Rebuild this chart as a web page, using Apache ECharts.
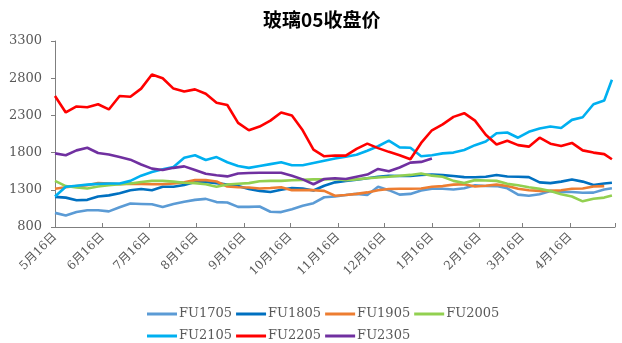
<!DOCTYPE html>
<html><head><meta charset="utf-8">
<script src="https://cdn.jsdelivr.net/npm/echarts@6/dist/echarts.min.js"></script>
<style>html,body{margin:0;padding:0;background:#fff}#c{width:622px;height:343px}</style>
</head><body><div id="c"></div>
<script>
// Title and legend
const titleText = '玻璃05收盘价';
const seriesNames = ['FU1705','FU1805','FU1905','FU2005','FU2105','FU2205','FU2305'];
const seriesColors = ['#5B9BD5','#0070C0','#ED7D31','#92D050','#00B0F0','#FF0000','#7030A0'];
// y axis
const yMin = 800, yMax = 3300, yStep = 500;

// categories: every calendar day 5月16日 .. 5月15日 (365 days)
const categories = [];
for (let i = 0; i < 365; i++) {
  const d = new Date(Date.UTC(2021, 4, 16 + i));
  categories.push((d.getUTCMonth() + 1) + '月' + d.getUTCDate() + '日');
}
// sample days (index into categories), weekly readings
const sampleDays = [];
for (let k = 0; k < 52; k++) sampleDays.push(k * 7);
sampleDays.push(362);

const FU1705 = [990,955,1002,1025,1025,1010,1065,1115,1110,1105,1070,1110,1140,1165,1178,1135,1130,1070,1070,1075,1005,1000,1040,1085,1120,1200,1210,1230,1245,1230,1340,1295,1235,1245,1290,1315,1315,1305,1320,1360,1352,1350,1320,1235,1220,1240,1285,1270,1270,1260,1262,1305,1320];
const FU1805 = [1205,1195,1160,1165,1210,1225,1255,1295,1310,1295,1340,1340,1365,1405,1405,1390,1372,1350,1310,1285,1270,1300,1325,1318,1290,1355,1400,1420,1435,1455,1475,1488,1485,1485,1498,1505,1497,1485,1470,1468,1475,1500,1478,1475,1470,1400,1390,1410,1438,1410,1365,1385,1395];
const FU1905 = [1315,1335,1350,1362,1390,1385,1375,1383,1380,1375,1375,1385,1400,1430,1430,1412,1345,1335,1330,1318,1325,1335,1295,1295,1295,1285,1220,1230,1245,1265,1295,1310,1315,1315,1318,1340,1350,1370,1375,1345,1355,1370,1350,1315,1293,1285,1285,1295,1315,1318,1345,1350,null];
const FU2005 = [1420,1350,1330,1318,1345,1362,1375,1385,1405,1420,1420,1410,1395,1390,1375,1340,1372,1382,1390,1415,1420,1420,1428,1433,1440,1440,1445,1430,1440,1455,1465,1475,1488,1500,1518,1490,1475,1420,1392,1430,1425,1420,1380,1360,1335,1315,1285,1240,1210,1145,1180,1195,1222];
const FU2105 = [1210,1340,1355,1370,1380,1385,1385,1420,1490,1540,1575,1605,1730,1765,1700,1740,1670,1620,1595,1620,1645,1670,1630,1630,1660,1690,1720,1745,1770,1825,1885,1960,1870,1865,1750,1765,1790,1800,1835,1900,1950,2060,2070,2000,2080,2125,2150,2130,2240,2275,2450,2500,2780];
const FU2205 = [2560,2340,2420,2410,2450,2380,2560,2550,2660,2850,2800,2660,2620,2650,2590,2470,2440,2200,2100,2150,2230,2340,2300,2100,1840,1750,1760,1760,1850,1920,1860,1810,1765,1710,1930,2100,2180,2280,2330,2230,2040,1910,1960,1900,1880,2000,1920,1890,1930,1830,1800,1780,1710];
const FU2305 = [1790,1765,1830,1865,1795,1775,1740,1705,1640,1585,1565,1595,1615,1565,1515,1495,1480,1520,1525,1530,1530,1530,1490,1440,1375,1445,1455,1445,1475,1505,1580,1550,1600,1665,1675,1720];

const seriesValues = [FU1705, FU1805, FU1905, FU2005, FU2105, FU2205, FU2305];

const chart = echarts.init(document.getElementById('c'), null, {renderer: 'canvas'});
const isLabelDay = (idx, val) => /月16日$/.test(val);

chart.setOption({
  animation: false,
  backgroundColor: '#fff',
  title: {
    text: titleText, left: 258, top: 5,
    textStyle: {fontFamily: 'Noto Sans CJK SC', fontWeight: 'bold', fontSize: 19, color: '#000'}
  },
  legend: {
    data: seriesNames, left: 142, top: 300, width: 380,
    icon: 'rect', itemWidth: 30, itemHeight: 3, itemGap: 4,
    textStyle: {fontFamily: 'DejaVu Serif', fontSize: 13, color: '#595959',
      lineHeight: 18, padding: [0,0,0,-3]}
  },
  grid: {left: 55, right: 7, top: 41, bottom: 116, containLabel: false},
  xAxis: {
    type: 'category', data: categories, boundaryGap: false,
    axisLine: {lineStyle: {color: '#7f7f7f', width: 1}},
    axisTick: {show: true, inside: true, length: 4, lineStyle: {color: '#7f7f7f'},
      interval: (idx, val) => isLabelDay(idx, val) || idx === categories.length - 1},
    axisLabel: {interval: isLabelDay, rotate: 45, margin: 8, color: '#595959',
      fontFamily: 'DejaVu Serif, Noto Sans CJK SC', fontSize: 12},
    splitLine: {show: false}
  },
  yAxis: {
    type: 'value', min: yMin, max: yMax, interval: yStep,
    axisLine: {show: true, lineStyle: {color: '#7f7f7f', width: 1}},
    axisTick: {show: true, length: 4, lineStyle: {color: '#7f7f7f'}},
    axisLabel: {margin: 13, color: '#595959', fontFamily: 'DejaVu Serif', fontSize: 13,
      formatter: v => String(v)},
    splitLine: {show: false}
  },
  series: seriesNames.map((name, s) => ({
    name, type: 'line', symbol: 'none', smooth: false,
    color: seriesColors[s],
    lineStyle: {width: 2.6, color: seriesColors[s]},
    data: sampleDays.map((d, i) => seriesValues[s][i] == null ? null : [d, seriesValues[s][i]])
      .filter(p => p !== null)
  }))
});
</script></body></html>
